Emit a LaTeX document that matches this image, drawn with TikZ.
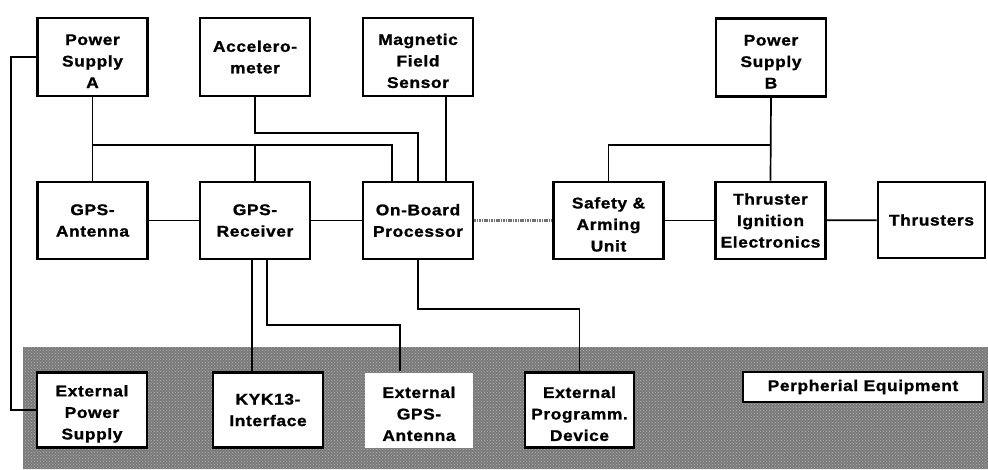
\documentclass[tikz,border=0pt]{standalone}
\usepackage{fontspec}
\setmainfont[FakeStretch=1.12,LetterSpace=4,BoldFeatures={FakeBold=1.2}]{Liberation Sans}
\usetikzlibrary{patterns}
\newcommand\dnstrut{\rule{0pt}{19pt}}
\begin{document}
\begin{tikzpicture}[x=1pt,y=-1pt,
  blk/.style={draw=black,line width=2.8pt,fill=white,minimum width=110pt,minimum height=78pt,
    align=center,inner sep=0pt,font=\fontsize{15.5}{21.5}\selectfont\bfseries},
  nobd/.style={blk,draw=none},
  conn/.style={line width=1.7pt,line join=miter},
  hatch/.style={line width=2.6pt,draw=black!55,dash pattern=on 1.6pt off 0.8pt}]
\useasboundingbox (0,0) rectangle (988,469);
% peripheral band
\fill[black!52] (23,347) rectangle (988,469);
\fill[pattern=crosshatch dots,pattern color=black!30] (23,347) rectangle (988,469);
% top row
\node[blk] (psa) at (92.5,57) {\dnstrut Power\\Supply\\A};
\node[blk] (acc) at (255,57) {Accelero-\\meter};
\node[blk] (mag) at (418,57) {\dnstrut Magnetic\\Field\\Sensor};
\node[blk] (psb) at (771,57.5) {\dnstrut Power\\Supply\\B};
% middle row
\node[blk,minimum height=77pt] (gpsa) at (92.5,220.5) {GPS-\\Antenna};
\node[blk,minimum height=77pt] (gpsr) at (255,220.5) {GPS-\\Receiver};
\node[blk,minimum height=77pt] (obp) at (418,220.5) {On-Board\\Processor};
\node[blk,minimum height=77pt] (sau) at (608.5,220.5) {\dnstrut Safety \&\\Arming\\Unit};
\node[blk,minimum height=77pt] (tie) at (770.5,220.5) {Thruster\\Ignition\\Electronics};
\node[blk,minimum height=76pt,minimum width=107pt] (thr) at (931.5,220) {Thrusters};
% bottom row
\node[blk,minimum height=75pt] (eps) at (92,410) {\dnstrut External\\Power\\Supply};
\node[blk,minimum height=75pt] (kyk) at (268,410) {KYK13-\\Interface};
\node[nobd,minimum height=75pt,minimum width=108pt] (egps) at (419,410) {\dnstrut External\\GPS-\\Antenna};
\node[blk,minimum height=75pt,minimum width=109pt] (epd) at (579.5,410) {\dnstrut External\\Programm.\\Device};
\node[blk,line width=2pt,minimum width=240pt,minimum height=30pt] (peq) at (863,387) {Perpherial Equipment};
% bus coordinates
\coordinate (busA) at (92.5,145);
\coordinate (busAend) at (392,145);
\coordinate (busB) at (771,145);
% connectors
\draw[conn] (psa.south) -- (gpsa.north);
\draw[conn] (busA) -- (busAend) -- (busAend |- obp.north);
\draw[conn] (gpsr.north) -- (gpsr.north |- busA);
\draw[conn] (acc.south) |- (obp.north |- 0,133) -- (obp.north);
\draw[conn] (mag.south -| 446,0) -- (obp.north -| 446,0);
\draw[conn] (psa.west) -- ++(-25,0) |- (eps.west);
\draw[conn] (gpsa) -- (gpsr);
\draw[conn] (gpsr) -- (obp);
\draw[hatch] (obp) -- (sau);
\draw[conn] (sau) -- (tie);
\draw[conn] (tie) -- (thr);
\draw[conn] (psb.south) -- (tie.north);
\draw[conn] (busB) -| (sau.north);
\draw[conn] ([xshift=-3pt]gpsr.south) -- ([xshift=-3pt]gpsr.south |- kyk.north);
\draw[conn] ([xshift=12pt]gpsr.south) |- ([xshift=-19pt]egps.north |- 0,325) -- ([xshift=-19pt]egps.north);
\draw[conn] (obp.south) |- (epd.north |- 0,309) -- (epd.north);
\end{tikzpicture}
\end{document}
